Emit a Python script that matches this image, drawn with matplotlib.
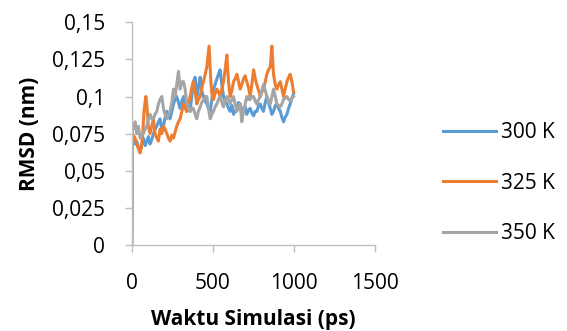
import matplotlib
matplotlib.use("Agg")
import matplotlib.pyplot as plt

# ---- data ----
t_300 = [0, 5, 10, 21, 31, 41, 52, 62, 72, 83, 93, 103, 113, 124, 134, 144, 155, 165, 175, 186, 196,
         206, 217, 227, 237, 248, 258, 268, 278, 289, 299, 310, 320, 330, 340, 351, 361, 371, 381, 392,
         402, 412, 423, 433, 443, 454, 464, 474, 485, 495, 505, 515, 526, 536, 546, 557, 567, 577, 588,
         598, 608, 619, 629, 639, 650, 660, 670, 680, 691, 701, 711, 722, 732, 742, 753, 763, 773, 784,
         794, 804, 814, 825, 835, 845, 856, 866, 876, 887, 897, 907, 918, 928, 938, 948, 959, 969, 979,
         990, 1000]
rmsd_300 = [0.0, 0.075, 0.072, 0.068, 0.070, 0.066, 0.063, 0.068, 0.072, 0.067, 0.070, 0.073, 0.068,
            0.071, 0.075, 0.078, 0.080, 0.083, 0.085, 0.078, 0.080, 0.086, 0.090, 0.087, 0.085, 0.090,
            0.095, 0.098, 0.100, 0.096, 0.092, 0.097, 0.100, 0.094, 0.090, 0.092, 0.090, 0.100, 0.110,
            0.113, 0.100, 0.106, 0.113, 0.104, 0.100, 0.097, 0.095, 0.092, 0.090, 0.098, 0.105, 0.108,
            0.112, 0.115, 0.118, 0.108, 0.100, 0.097, 0.095, 0.092, 0.090, 0.094, 0.088, 0.090, 0.092,
            0.096, 0.095, 0.091, 0.090, 0.093, 0.088, 0.091, 0.092, 0.089, 0.087, 0.090, 0.090, 0.094,
            0.095, 0.092, 0.090, 0.096, 0.100, 0.096, 0.092, 0.088, 0.090, 0.094, 0.095, 0.092, 0.090,
            0.086, 0.083, 0.086, 0.088, 0.092, 0.095, 0.099, 0.102]

t_325 = [0, 5, 10, 21, 31, 41, 52, 60, 68, 76, 87, 93, 103, 113, 124, 134, 144, 155, 165, 175, 186,
         196, 206, 217, 227, 237, 248, 258, 268, 278, 289, 299, 310, 320, 330, 340, 351, 361, 371, 381,
         392, 402, 412, 423, 433, 443, 454, 464, 478, 489, 495, 505, 515, 526, 536, 546, 557, 567, 577,
         588, 598, 608, 619, 629, 639, 650, 660, 670, 680, 691, 701, 711, 722, 732, 742, 753, 763, 773,
         784, 794, 804, 814, 825, 835, 845, 856, 866, 876, 887, 897, 907, 918, 928, 938, 948, 959, 969,
         979, 990, 1000]
rmsd_325 = [0.0, 0.070, 0.074, 0.072, 0.068, 0.065, 0.062, 0.066, 0.075, 0.090, 0.100, 0.095, 0.080,
            0.075, 0.080, 0.085, 0.075, 0.072, 0.070, 0.078, 0.075, 0.080, 0.078, 0.075, 0.072, 0.070,
            0.074, 0.072, 0.076, 0.080, 0.083, 0.085, 0.090, 0.095, 0.092, 0.090, 0.096, 0.100, 0.106,
            0.110, 0.103, 0.095, 0.098, 0.100, 0.106, 0.110, 0.115, 0.120, 0.134, 0.110, 0.102, 0.098,
            0.102, 0.105, 0.103, 0.100, 0.105, 0.110, 0.118, 0.128, 0.110, 0.100, 0.104, 0.110, 0.112,
            0.115, 0.110, 0.105, 0.108, 0.112, 0.114, 0.110, 0.106, 0.100, 0.108, 0.118, 0.112, 0.108,
            0.104, 0.100, 0.103, 0.105, 0.110, 0.115, 0.118, 0.120, 0.134, 0.115, 0.108, 0.105, 0.108,
            0.110, 0.105, 0.100, 0.105, 0.110, 0.113, 0.115, 0.110, 0.103]

t_350 = [0, 5, 10, 21, 31, 41, 52, 62, 72, 83, 93, 103, 113, 124, 134, 144, 155, 165, 175, 186, 196,
         206, 217, 227, 237, 248, 258, 268, 278, 289, 299, 310, 320, 330, 340, 351, 361, 371, 381, 392,
         402, 412, 423, 433, 443, 454, 464, 474, 485, 495, 505, 515, 526, 536, 546, 557, 567, 577, 588,
         598, 608, 619, 629, 639, 650, 660, 670, 680, 691, 701, 711, 722, 732, 742, 753, 763, 773, 784,
         794, 804, 814, 825, 835, 845, 856, 866, 876, 887, 897, 907, 918, 928, 938, 948, 959, 969, 979,
         990, 1000]
rmsd_350 = [0.0, 0.080, 0.078, 0.083, 0.075, 0.080, 0.072, 0.074, 0.075, 0.078, 0.080, 0.085, 0.088,
            0.085, 0.085, 0.088, 0.090, 0.095, 0.098, 0.100, 0.092, 0.088, 0.085, 0.088, 0.090, 0.096,
            0.105, 0.100, 0.108, 0.117, 0.105, 0.110, 0.110, 0.105, 0.095, 0.092, 0.090, 0.092, 0.092,
            0.088, 0.085, 0.090, 0.093, 0.096, 0.098, 0.100, 0.100, 0.092, 0.085, 0.088, 0.090, 0.093,
            0.095, 0.098, 0.100, 0.096, 0.093, 0.097, 0.100, 0.098, 0.095, 0.098, 0.100, 0.095, 0.090,
            0.093, 0.095, 0.083, 0.090, 0.095, 0.100, 0.098, 0.098, 0.100, 0.100, 0.097, 0.095, 0.098,
            0.100, 0.104, 0.108, 0.104, 0.100, 0.097, 0.095, 0.100, 0.105, 0.100, 0.095, 0.094, 0.093,
            0.095, 0.098, 0.099, 0.100, 0.098, 0.097, 0.099, 0.100]

labels = ["300 K", "325 K", "350 K"]
colors = ["#5B9BD5", "#ED7D31", "#A5A5A5"]
y_ticks = [0, 0.025, 0.05, 0.075, 0.1, 0.125, 0.15]
y_tick_labels = ["0", "0,025", "0,05", "0,075", "0,1", "0,125", "0,15"]
x_ticks = [0, 500, 1000, 1500]
x_tick_labels = ["0", "500", "1000", "1500"]

plt.rcParams['font.family'] = ['Open Sans', 'DejaVu Sans']
FS = 15

fig = plt.figure(figsize=(5.67, 3.31), dpi=100)
ax = fig.add_axes([0.2323, 0.2598, 0.4282, 0.6728])

for t, y, lab, c in zip([t_300, t_325, t_350], [rmsd_300, rmsd_325, rmsd_350], labels, colors):
    ax.plot(t, y, color=c, lw=2.2, label=lab, solid_joinstyle='round')

ax.set_xlim(0, 1500)
ax.set_ylim(0, 0.15)
ax.set_xticks(x_ticks)
ax.set_xticklabels(x_tick_labels)
ax.set_yticks(y_ticks)
ax.set_yticklabels(y_tick_labels)

for s in ['top', 'right']:
    ax.spines[s].set_visible(False)
for s in ['left', 'bottom']:
    ax.spines[s].set_color('#BFBFBF')
    ax.spines[s].set_linewidth(1.0)

ax.tick_params(axis='both', colors='#BFBFBF', labelcolor='black', labelsize=FS, length=5, width=1)
ax.tick_params(axis='y', pad=14)
ax.tick_params(axis='x', pad=15.5)

ax.set_xlabel("Waktu Simulasi (ps)", fontsize=FS, fontweight='bold', labelpad=10.5)
ax.set_ylabel("RMSD (nm)", fontsize=FS, fontweight='bold', labelpad=8.5)

leg = fig.legend(loc='center left', bbox_to_anchor=(0.781, 0.447), frameon=False, fontsize=FS,
                 handlelength=2.55, handletextpad=0.25, labelspacing=1.42, borderaxespad=0,
                 borderpad=0)
for h in leg.get_lines():
    h.set_linewidth(2.2)

fig.savefig("out.png", dpi=100)
